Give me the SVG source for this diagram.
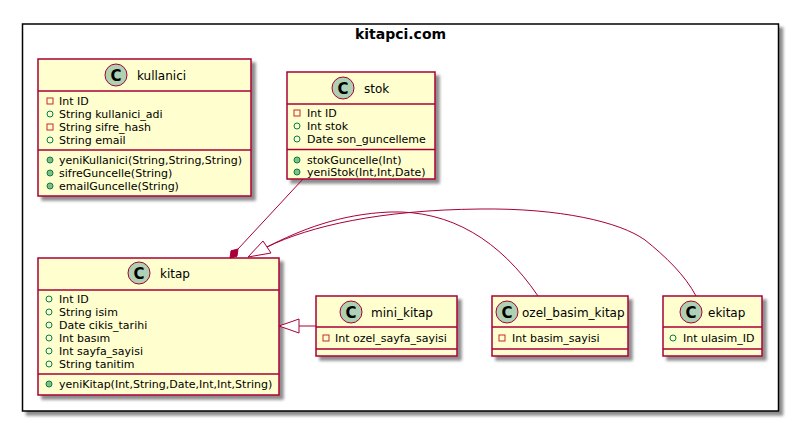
<svg xmlns="http://www.w3.org/2000/svg" width="789" height="421" viewBox="0 0 789 421">
<defs>
<filter id="sh" x="-10%" y="-10%" width="130%" height="130%">
<feGaussianBlur in="SourceAlpha" stdDeviation="1.5"/>
<feOffset dx="4" dy="4" result="b"/>
<feComponentTransfer><feFuncA type="linear" slope="0.45"/></feComponentTransfer>
<feMerge><feMergeNode/><feMergeNode in="SourceGraphic"/></feMerge>
</filter>
</defs>
<style>
.pkg{fill:#ffffff;stroke:#000000;stroke-width:1.5}
.box{fill:#FEFECE;stroke:#A80036;stroke-width:1.5}
.sep{stroke:#A80036;stroke-width:1.5}
.ic{fill:#ADD1B2;stroke:#A80036;stroke-width:1}
.icl{font-family:"DejaVu Sans",sans-serif;font-size:15px;font-weight:bold;fill:#000;text-anchor:middle}
.nm{font-family:"DejaVu Sans",sans-serif;font-size:12px;fill:#000}
.mb{font-family:"DejaVu Sans",sans-serif;font-size:11px;fill:#000}
.ttl{font-family:"DejaVu Sans",sans-serif;font-size:14px;font-weight:bold;fill:#000;text-anchor:middle}
.pv{fill:none;stroke:#C82930;stroke-width:1}
.pa{fill:none;stroke:#038048;stroke-width:1}
.pm{fill:#84BE84;stroke:#038048;stroke-width:1}
.ln{fill:none;stroke:#A80036;stroke-width:1}
.tri{fill:#ffffff;stroke:#A80036;stroke-width:1}
.dia{fill:#A80036;stroke:#A80036;stroke-width:1}
</style>
<g id="package">
<rect class="pkg" x="22.5" y="24" width="756" height="387" filter="url(#sh)"/>
<text class="ttl" x="400.5" y="39">kitapci.com</text>
</g>
<g id="kullanici">
<rect class="box" x="38" y="59" width="213" height="137" filter="url(#sh)"/>
<line class="sep" x1="38" y1="91" x2="251" y2="91"/>
<line class="sep" x1="38" y1="150" x2="251" y2="150"/>
<circle class="ic" cx="116" cy="75" r="11"/>
<text class="icl" x="116" y="80.5">C</text>
<text class="nm" x="137" y="79.5">kullanici</text>
<rect class="pv" x="47" y="98" width="6" height="6"/>
<text class="mb" x="59" y="105">Int ID</text>
<circle class="pa" cx="50" cy="114" r="3"/>
<text class="mb" x="59" y="118">String kullanici_adi</text>
<rect class="pv" x="47" y="124" width="6" height="6"/>
<text class="mb" x="59" y="131">String sifre_hash</text>
<circle class="pa" cx="50" cy="140" r="3"/>
<text class="mb" x="59" y="144">String email</text>
<circle class="pm" cx="50" cy="160" r="3"/>
<text class="mb" x="59" y="164">yeniKullanici(String,String,String)</text>
<circle class="pm" cx="50" cy="173" r="3"/>
<text class="mb" x="59" y="177">sifreGuncelle(String)</text>
<circle class="pm" cx="50" cy="186" r="3"/>
<text class="mb" x="59" y="190">emailGuncelle(String)</text>
</g>
<g id="stok">
<rect class="box" x="287" y="72" width="148" height="107" filter="url(#sh)"/>
<line class="sep" x1="287" y1="104" x2="435" y2="104"/>
<line class="sep" x1="287" y1="149.5" x2="435" y2="149.5"/>
<circle class="ic" cx="343" cy="88" r="11"/>
<text class="icl" x="343" y="93.5">C</text>
<text class="nm" x="364" y="92.5">stok</text>
<rect class="pv" x="294" y="110" width="6" height="6"/>
<text class="mb" x="307" y="117">Int ID</text>
<circle class="pa" cx="297" cy="126" r="3"/>
<text class="mb" x="307" y="130">Int stok</text>
<circle class="pa" cx="297" cy="139" r="3"/>
<text class="mb" x="307" y="143">Date son_guncelleme</text>
<circle class="pm" cx="297" cy="160" r="3"/>
<text class="mb" x="307" y="164">stokGuncelle(Int)</text>
<circle class="pm" cx="297" cy="172" r="3"/>
<text class="mb" x="307" y="176">yeniStok(Int,Int,Date)</text>
</g>
<g id="kitap">
<rect class="box" x="38" y="258" width="241" height="137" filter="url(#sh)"/>
<line class="sep" x1="38" y1="290" x2="279" y2="290"/>
<line class="sep" x1="38" y1="374" x2="279" y2="374"/>
<circle class="ic" cx="139" cy="273" r="11"/>
<text class="icl" x="139" y="278.5">C</text>
<text class="nm" x="160" y="277.5">kitap</text>
<circle class="pa" cx="49" cy="299" r="3"/>
<text class="mb" x="59" y="303">Int ID</text>
<circle class="pa" cx="49" cy="312" r="3"/>
<text class="mb" x="59" y="316">String isim</text>
<circle class="pa" cx="49" cy="325" r="3"/>
<text class="mb" x="59" y="329">Date cikis_tarihi</text>
<circle class="pa" cx="49" cy="338" r="3"/>
<text class="mb" x="59" y="342">Int basım</text>
<circle class="pa" cx="49" cy="351" r="3"/>
<text class="mb" x="59" y="355">Int sayfa_sayisi</text>
<circle class="pa" cx="49" cy="364" r="3"/>
<text class="mb" x="59" y="368">String tanitim</text>
<circle class="pm" cx="49" cy="384" r="3"/>
<text class="mb" x="59" y="388">yeniKitap(Int,String,Date,Int,Int,String)</text>
</g>
<g id="mini_kitap">
<rect class="box" x="316" y="296" width="141" height="60" filter="url(#sh)"/>
<line class="sep" x1="316" y1="327" x2="457" y2="327"/>
<line class="sep" x1="316" y1="349" x2="457" y2="349"/>
<circle class="ic" cx="351" cy="312" r="11"/>
<text class="icl" x="351" y="317.5">C</text>
<text class="nm" x="371" y="316.5">mini_kitap</text>
<rect class="pv" x="323" y="335" width="6" height="6"/>
<text class="mb" x="335" y="342">Int ozel_sayfa_sayisi</text>
</g>
<g id="ozel_basim_kitap">
<rect class="box" x="492" y="296" width="136" height="60" filter="url(#sh)"/>
<line class="sep" x1="492" y1="327" x2="628" y2="327"/>
<line class="sep" x1="492" y1="349" x2="628" y2="349"/>
<circle class="ic" cx="507" cy="312" r="11"/>
<text class="icl" x="507" y="317.5">C</text>
<text class="nm" x="522" y="316.5">ozel_basim_kitap</text>
<rect class="pv" x="499" y="335" width="6" height="6"/>
<text class="mb" x="512" y="342">Int basim_sayisi</text>
</g>
<g id="ekitap">
<rect class="box" x="663" y="296" width="99" height="60" filter="url(#sh)"/>
<line class="sep" x1="663" y1="327" x2="762" y2="327"/>
<line class="sep" x1="663" y1="349" x2="762" y2="349"/>
<circle class="ic" cx="691" cy="312" r="11"/>
<text class="icl" x="691" y="317.5">C</text>
<text class="nm" x="708" y="316.5">ekitap</text>
<circle class="pa" cx="673" cy="338" r="3"/>
<text class="mb" x="683" y="342">Int ulasim_ID</text>
</g>
<g id="connectors">
<line class="ln" x1="303" y1="179" x2="238" y2="249"/>
<polygon class="dia" points="230,258 231,250.8 238,249 237,256.2"/>
<path class="ln" d="M538,296 C500,240 450,210 390,212 C340,214 300,230 267,247"/>
<path class="ln" d="M696,296 C685,275 665,256 645,240 C620,222 560,208 480,209 C380,210 310,226 267,247"/>
<polygon class="tri" points="248,257 263,241 271,253"/>
<line class="ln" x1="299" y1="326" x2="316" y2="326"/>
<polygon class="tri" points="279,326 299,319 299,333"/>
</g>
</svg>
